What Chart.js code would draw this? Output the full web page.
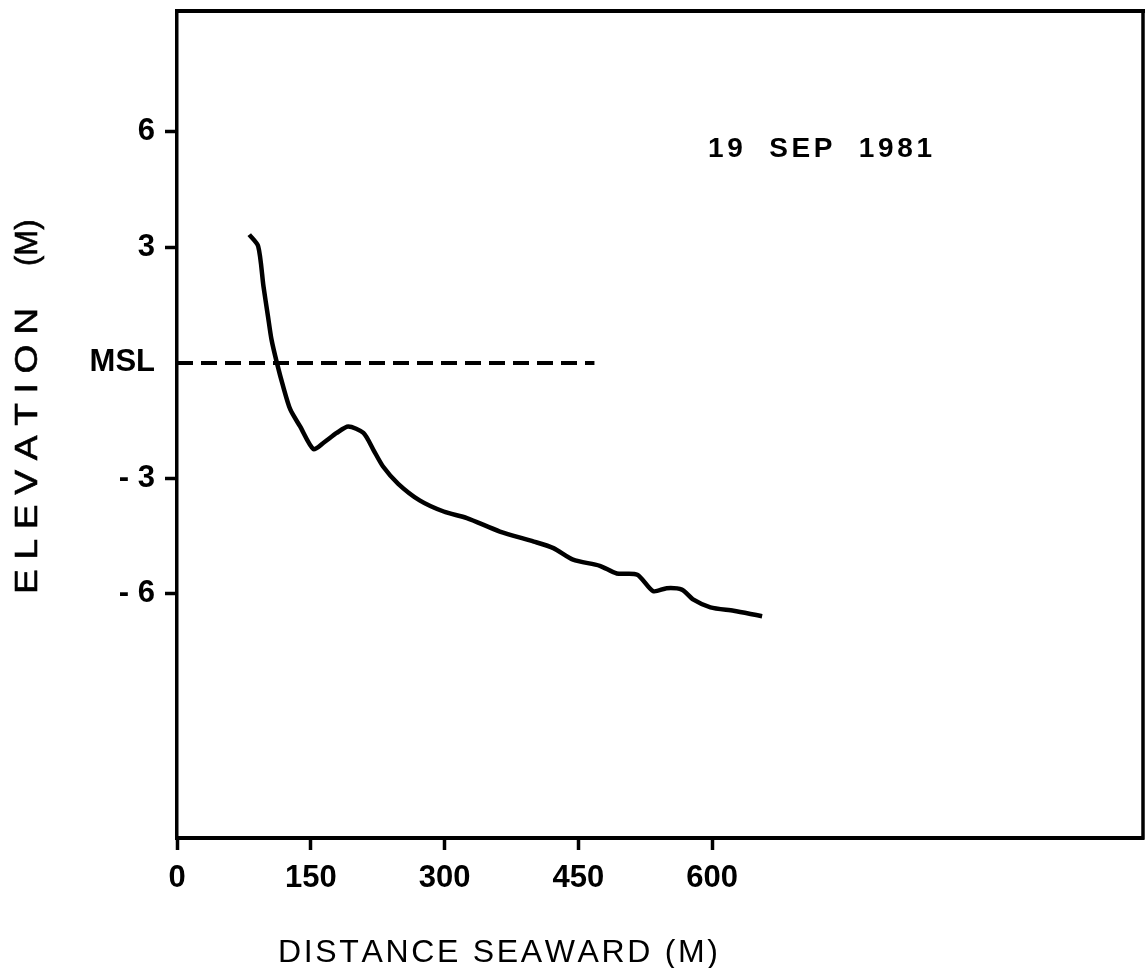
<!DOCTYPE html>
<html><head><meta charset="utf-8">
<script src="https://cdn.jsdelivr.net/npm/chart.js@4.4.1/dist/chart.umd.min.js"></script>
<style>html,body{margin:0;padding:0;background:#fff}#wrap{width:1147px;height:968px;position:relative}</style>
</head><body><div id="wrap"><canvas id="c" width="1147" height="968"></canvas></div>
<script>
// ---- data ----
const profileX = [81, 91, 97, 102, 106, 112, 119, 127, 138, 153, 164, 179, 192, 209, 220, 231, 248, 272, 299, 325, 362, 400, 422, 444, 474, 493, 516, 534, 549, 566, 579, 598, 624, 643, 656];
const profileY = [3.33, 3.03, 1.98, 1.21, 0.60, 0.00, -0.61, -1.21, -1.65, -2.24, -2.08, -1.82, -1.65, -1.82, -2.25, -2.69, -3.14, -3.57, -3.86, -4.03, -4.38, -4.64, -4.81, -5.11, -5.27, -5.47, -5.50, -5.93, -5.85, -5.89, -6.15, -6.35, -6.44, -6.52, -6.58];
const mslX = [0, 468];
const mslY = [0, 0];
const xTicks = [0, 150, 300, 450, 600];
const xTickLabels = ['0', '150', '300', '450', '600'];
const yTicks = [6, 3, 0, -3, -6];
const yTickLabels = ['6', '3', 'MSL', '- 3', '- 6'];
const xRange = [0, 1083];
const yRange = [-12.34, 9.14];
const xTitle = 'DISTANCE SEAWARD (M)';
const yTitleMain = 'ELEVATION';
const yTitleUnit = '(M)';
const dateLabel = '19  SEP  1981';

const FAM = '"Liberation Sans", Arial, Helvetica, sans-serif';

function spacedText(ctx, text, x, y, width, stroke) {
  const chars = [...text];
  const ws = chars.map(c => ctx.measureText(c).width);
  const w0 = ws.reduce((a, b) => a + b, 0);
  const gap = chars.length > 1 ? (width - w0) / (chars.length - 1) : 0;
  let cx = x;
  chars.forEach((c, i) => {
    ctx.fillText(c, cx, y);
    if (stroke) ctx.strokeText(c, cx, y);
    cx += ws[i] + gap;
  });
}

const framePlugin = {
  id: 'frame',
  afterDatasetsDraw(chart) {
    const { ctx, chartArea: a } = chart;
    ctx.save();
    ctx.strokeStyle = '#000';
    ctx.lineCap = 'square';
    ctx.lineWidth = 4;
    ctx.beginPath(); ctx.moveTo(a.left, a.top); ctx.lineTo(a.right, a.top); ctx.stroke();
    ctx.lineWidth = 3.5;
    ctx.beginPath(); ctx.moveTo(a.right, a.top); ctx.lineTo(a.right, a.bottom); ctx.stroke();
    ctx.restore();
  }
};

const textPlugin = {
  id: 'texts',
  afterDraw(chart) {
    const ctx = chart.ctx;
    ctx.save();
    ctx.fillStyle = '#000';
    ctx.strokeStyle = '#000';
    ctx.textBaseline = 'alphabetic';
    ctx.textAlign = 'left';
    // date label
    ctx.font = 'bold 28px ' + FAM;
    spacedText(ctx, dateLabel, 708, 157, 224);
    // x title
    ctx.font = '32px ' + FAM;
    spacedText(ctx, xTitle, 278, 962, 440);
    // y title (rotated)
    ctx.translate(37, 594);
    ctx.rotate(-Math.PI / 2);
    ctx.font = '31px ' + FAM;
    ctx.lineWidth = 0.6;
    ctx.save();
    ctx.scale(1.2, 1);
    spacedText(ctx, yTitleMain, 0, 0, 286 / 1.2, true);
    ctx.restore();
    ctx.fillText(yTitleUnit, 328, 0);
    ctx.strokeText(yTitleUnit, 328, 0);
    ctx.restore();
  }
};

new Chart(document.getElementById('c'), {
  type: 'scatter',
  data: {
    datasets: [
      {
        label: 'profile',
        data: profileX.map((x, i) => ({ x, y: profileY[i] })),
        showLine: true,
        borderColor: '#000',
        borderWidth: 4.5,
        pointRadius: 0,
        tension: 0.25,
        fill: false
      },
      {
        label: 'MSL',
        data: mslX.map((x, i) => ({ x, y: mslY[i] })),
        showLine: true,
        borderColor: '#000',
        borderWidth: 4,
        borderDash: [16, 8],
        pointRadius: 0,
        fill: false
      }
    ]
  },
  options: {
    responsive: false,
    animation: false,
    devicePixelRatio: 1,
    layout: { padding: { left: 0, right: 4, top: 11, bottom: 0 } },
    plugins: { legend: { display: false }, tooltip: { enabled: false }, title: { display: false } },
    scales: {
      x: {
        type: 'linear',
        min: xRange[0], max: xRange[1],
        afterBuildTicks: s => { s.ticks = xTicks.map(v => ({ value: v })); },
        afterFit: s => { s.height = 130; s.paddingLeft = 0; s.paddingRight = 0; },
        ticks: {
          autoSkip: false, maxRotation: 0, minRotation: 0,
          color: '#000', padding: 10,
          font: { family: FAM, size: 31, weight: 'bold' },
          callback: v => xTickLabels[xTicks.indexOf(v)]
        },
        grid: { drawOnChartArea: false, drawTicks: true, tickLength: 12, tickWidth: 3.5, tickColor: '#000' },
        border: { display: true, color: '#000', width: 4 }
      },
      y: {
        type: 'linear',
        min: yRange[0], max: yRange[1],
        afterBuildTicks: s => { s.ticks = yTicks.map(v => ({ value: v })); },
        afterFit: s => { s.width = 177; s.paddingTop = 0; s.paddingBottom = 0; },
        ticks: {
          autoSkip: false, color: '#000', padding: 10,
          font: { family: FAM, size: 31, weight: 'bold' },
          callback: v => yTickLabels[yTicks.indexOf(v)]
        },
        grid: {
          drawOnChartArea: false, drawTicks: true, tickLength: 12, tickWidth: 3.5,
          tickColor: c => (c.tick && c.tick.value === 0) ? 'rgba(0,0,0,0)' : '#000'
        },
        border: { display: true, color: '#000', width: 3.5 }
      }
    }
  },
  plugins: [framePlugin, textPlugin]
});
</script>
</body></html>
